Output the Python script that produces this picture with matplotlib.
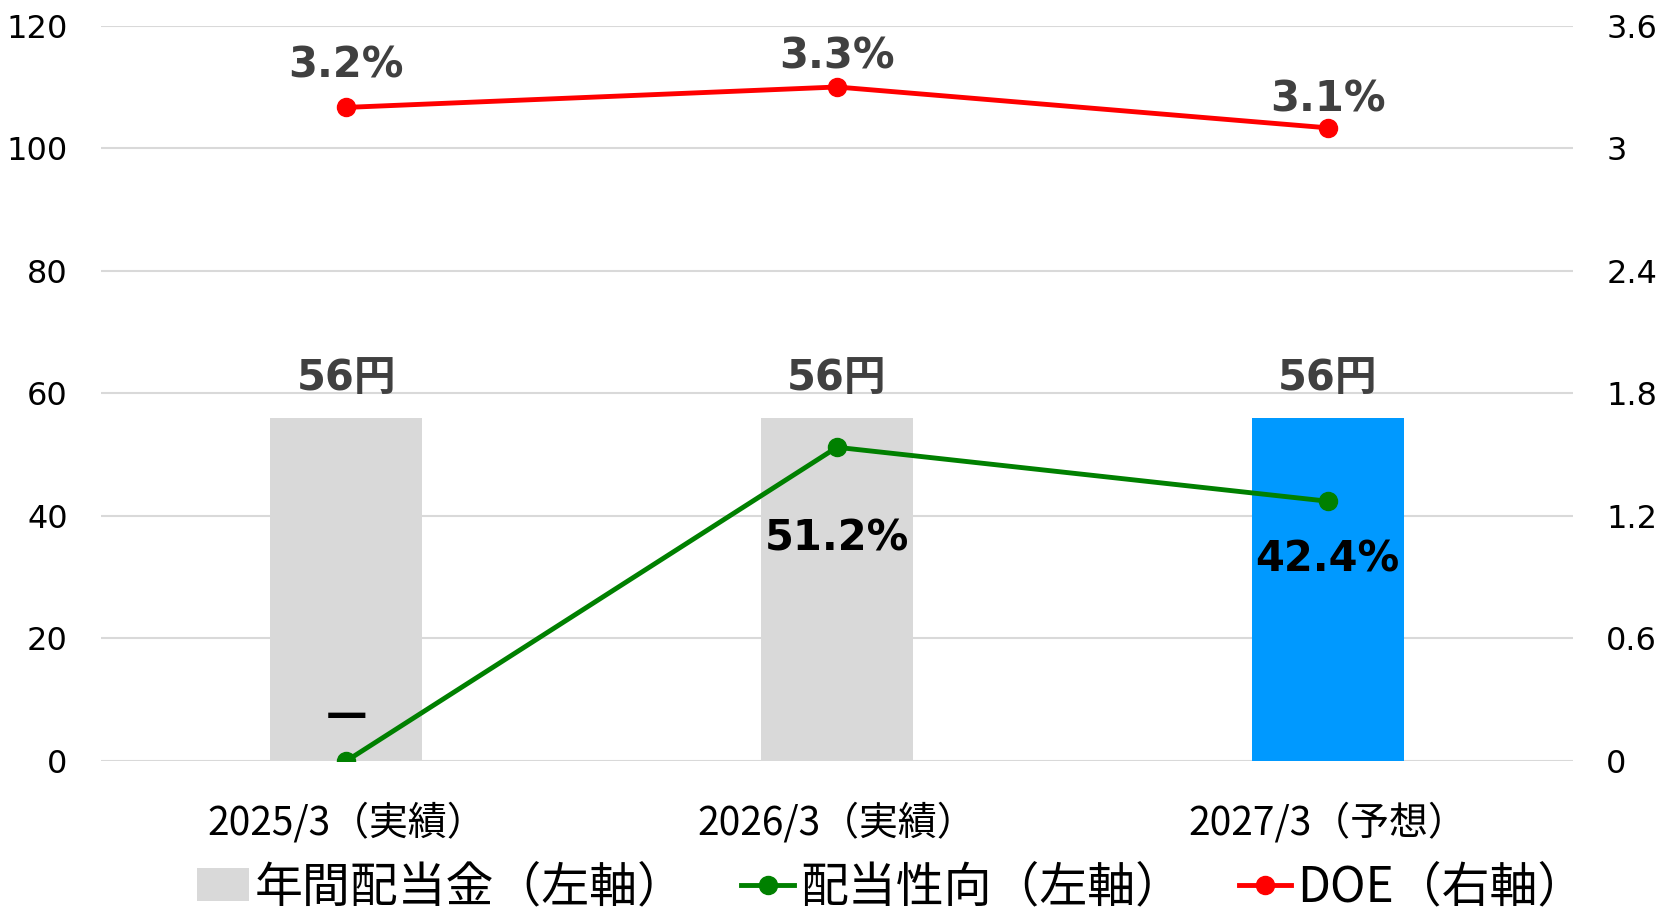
import matplotlib.pyplot as plt

plt.rcParams['font.family'] = ['DejaVu Sans', 'Noto Sans CJK JP']

# Data
categories = ["2025/3（実績）", "2026/3（実績）", "2027/3（予想）"]
dividend = [56, 56, 56]              # 年間配当金 (円, left axis)
payout_ratio = [0, 51.2, 42.4]       # 配当性向 (%, left axis)
doe = [3.2, 3.3, 3.1]                # DOE (%, right axis)

bar_colors = ["#D9D9D9", "#D9D9D9", "#0099FF"]
x = range(len(categories))

fig = plt.figure(figsize=(16.59, 9.15), dpi=100)
ax = fig.add_axes([0.0609, 0.1683, 0.8872, 0.8036])
ax2 = ax.twinx()

# bars
bars = ax.bar(x, dividend, width=0.31, color=bar_colors, zorder=2,
              label="年間配当金（左軸）")
for xi, v in zip(x, dividend):
    ax.annotate(f"{v}円", (xi, v), xytext=(0, 29), textcoords="offset points",
                ha="center", va="center", fontsize=30, fontweight="bold",
                color="#404040")

# payout ratio line (left axis)
green, = ax.plot(x, payout_ratio, color="#008000", lw=3.5, marker="o", ms=13,
                 zorder=3, label="配当性向（左軸）")
payout_offsets = [33, -66, -42]
for xi, v, off in zip(x, payout_ratio, payout_offsets):
    txt = "—" if v == 0 else f"{v:.1f}%"
    ax.annotate(txt, (xi, v), xytext=(0, off), textcoords="offset points",
                ha="center", va="center", fontsize=30, fontweight="bold",
                color="black", zorder=4)

# DOE line (right axis)
red, = ax2.plot(x, doe, color="#FF0000", lw=3.5, marker="o", ms=13,
                label="DOE（右軸）")
doe_offsets = [30, 22, 20.5]
for xi, v, off in zip(x, doe, doe_offsets):
    ax2.annotate(f"{v:.1f}%", (xi, v), xytext=(0, off), textcoords="offset points",
                 ha="center", va="center", fontsize=30, fontweight="bold",
                 color="#404040")

# axes styling
ax.set_xlim(-0.5, 2.5)
ax.set_ylim(0, 120)
ax.set_yticks(range(0, 121, 20))
ax2.set_ylim(0, 3.6)
ax2.set_yticks([0, 0.6, 1.2, 1.8, 2.4, 3, 3.6])
ax2.set_yticklabels(["0", "0.6", "1.2", "1.8", "2.4", "3", "3.6"])

ax.set_xticks(list(x))
ax.set_xticklabels(categories, family=["Noto Sans CJK JP"], fontsize=28)
ax.tick_params(axis="x", length=0, pad=30)
ax.tick_params(axis="y", length=0, pad=24, labelsize=23)
ax2.tick_params(axis="y", length=0, pad=24, labelsize=23)

ax.grid(axis="y", color="#D9D9D9", lw=1.5, zorder=0)
ax.set_axisbelow(True)
for a in (ax, ax2):
    for s in a.spines.values():
        s.set_visible(False)

fig.legend([bars, green, red],
           ["年間配当金（左軸）", "配当性向（左軸）", "DOE（右軸）"],
           loc="center", bbox_to_anchor=(0.537, 0.03), ncol=3, frameon=False,
           prop={"family": ["Noto Sans CJK JP"], "size": 34.5},
           handlelength=1.1, handletextpad=0.12, columnspacing=1.16,
           borderpad=0.1)

plt.savefig("out.png", dpi=100)
